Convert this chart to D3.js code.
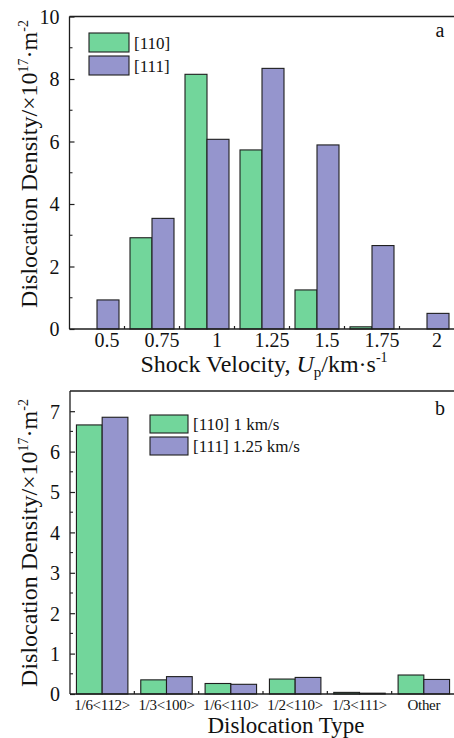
<!DOCTYPE html>
<html>
<head>
<meta charset="utf-8">
<script src="https://cdn.jsdelivr.net/npm/d3@7/dist/d3.min.js"></script>
<style>
  html, body { margin: 0; padding: 0; background: #fff; }
  svg { display: block; }
  svg text { font-family: "Liberation Serif", "Times New Roman", serif; }
</style>
</head>
<body>
<svg id="chart" width="454" height="738"></svg>
<script>
// Panel a: dislocation density vs. shock velocity
const velocities = ["0.5", "0.75", "1", "1.25", "1.5", "1.75", "2"];
const density110 = [0, 2.92, 8.15, 5.73, 1.25, 0.07, 0];
const density111 = [0.93, 3.54, 6.07, 8.34, 5.89, 2.67, 0.5];
const yTicksA = [0, 2, 4, 6, 8, 10];

// Panel b: dislocation density by dislocation type
const dislocationTypes = ["1/6<112>", "1/3<100>", "1/6<110>", "1/2<110>", "1/3<111>", "Other"];
const typeDensity110 = [6.66, 0.35, 0.26, 0.37, 0.04, 0.47];
const typeDensity111 = [6.85, 0.43, 0.24, 0.41, 0.02, 0.36];
const yTicksB = [0, 1, 2, 3, 4, 5, 6, 7];

const seriesNames = ["[110]", "[111]"];
const legendB = ["[110] 1 km/s", "[111] 1.25 km/s"];
const colors = ["#72d69b", "#9595cd"];
const stroke = "#1e1e1e";
const serif = "Liberation Serif, Times New Roman, serif";

const svg = d3.select("#chart");

function panel(cfg) {
  const g = svg.append("g");
  const { x0, x1, yTop, yBottom, yMax, cats, s1, s2 } = cfg;

  const x = d3.scaleBand().domain(cats).range([x0, x1]).paddingInner(0.2).paddingOuter(0.1);
  const xs = d3.scaleBand().domain([0, 1]).range([0, x.bandwidth()]);
  const y = d3.scaleLinear().domain([0, yMax]).range([yBottom, yTop]);

  // bars
  const data = [];
  cats.forEach((c, i) => {
    data.push({ c, s: 0, v: s1[i] });
    data.push({ c, s: 1, v: s2[i] });
  });
  g.selectAll("rect.bar").data(data.filter(d => d.v > 0)).join("rect")
    .attr("class", "bar")
    .attr("x", d => x(d.c) + xs(d.s))
    .attr("width", xs.bandwidth())
    .attr("y", d => y(d.v))
    .attr("height", d => y(0) - y(d.v))
    .attr("fill", d => colors[d.s])
    .attr("stroke", stroke)
    .attr("stroke-width", 1.1);

  // frame: left axis, top border, bottom axis
  g.append("line").attr("x1", x0).attr("x2", x0).attr("y1", yTop).attr("y2", yBottom)
    .attr("stroke", stroke).attr("stroke-width", 1.3);
  g.append("line").attr("x1", x0).attr("x2", 454).attr("y1", yTop).attr("y2", yTop)
    .attr("stroke", stroke).attr("stroke-width", 1.3);
  g.append("line").attr("x1", x0).attr("x2", 454).attr("y1", yBottom).attr("y2", yBottom)
    .attr("stroke", stroke).attr("stroke-width", 1.3);

  // y axis (inward ticks, minor ticks between majors)
  const yAxis = d3.axisLeft(y).tickValues(cfg.yTicks).tickSize(-5).tickPadding(10)
    .tickFormat(d3.format("d"));
  const ya = g.append("g").attr("transform", `translate(${x0},0)`).call(yAxis)
    .attr("font-family", serif);
  ya.select(".domain").remove();
  ya.selectAll(".tick line").attr("stroke", stroke).attr("stroke-width", 1.2);
  ya.selectAll(".tick text").attr("font-size", cfg.yFont).attr("fill", "#111")
    .attr("dy", "0.34em");
  g.selectAll("line.minor").data(cfg.minor).join("line").attr("class", "minor")
    .attr("x1", x0).attr("x2", x0 + 3).attr("y1", d => y(d)).attr("y2", d => y(d))
    .attr("stroke", stroke).attr("stroke-width", 1.1);

  // x ticks at group boundaries
  const bounds = cats.slice(1).map(c => x(c) - x.step() * x.paddingInner() / 2);
  g.selectAll("line.xt").data(bounds).join("line").attr("class", "xt")
    .attr("x1", d => d).attr("x2", d => d).attr("y1", yBottom).attr("y2", yBottom - 3)
    .attr("stroke", stroke).attr("stroke-width", 1.2);

  // x category labels
  g.selectAll("text.xl").data(cats).join("text").attr("class", "xl")
    .attr("x", d => x(d) + x.bandwidth() / 2 + cfg.labelShift)
    .attr("y", cfg.labelY)
    .attr("text-anchor", "middle")
    .attr("font-size", cfg.xFont)
    .attr("letter-spacing", cfg.xSpacing)
    .attr("fill", "#111")
    .text(d => d);

  // legend
  cfg.legend.forEach((t, i) => {
    const ly = cfg.legY + i * cfg.legStep;
    g.append("rect").attr("x", cfg.legX).attr("y", ly).attr("width", cfg.legW).attr("height", cfg.legH)
      .attr("fill", colors[i]).attr("stroke", stroke).attr("stroke-width", 1.1);
    g.append("text").attr("x", cfg.legX + cfg.legW + 5).attr("y", ly + cfg.legH / 2 + 6)
      .attr("font-size", 17).attr("fill", "#111").text(t);
  });

  // panel letter
  g.append("text").attr("x", 440).attr("y", cfg.letterY).attr("text-anchor", "middle")
    .attr("font-size", 20).attr("fill", "#111").text(cfg.letter);

  // y axis title
  const yt = g.append("text")
    .attr("transform", `translate(36.5,${cfg.yTitleY}) rotate(-90)`)
    .attr("text-anchor", "middle").attr("font-size", 24).attr("fill", "#111");
  yt.append("tspan").text("Dislocation Density/\u00d710");
  yt.append("tspan").attr("font-size", 14).attr("dy", -9).text("17");
  yt.append("tspan").attr("dy", 9).text("\u00b7m");
  yt.append("tspan").attr("font-size", 14).attr("dy", -9).text("-2");

  return { x, y };
}

panel({
  x0: 69.5, x1: 454.5, yTop: 16.5, yBottom: 329, yMax: 10,
  cats: velocities, s1: density110, s2: density111,
  yTicks: yTicksA, minor: [1, 3, 5, 7, 9], yFont: 20,
  labelShift: 10, labelY: 347, xFont: 20, xSpacing: 0,
  legend: seriesNames, legX: 89, legY: 33, legW: 40, legH: 19, legStep: 23,
  letter: "a", letterY: 37, yTitleY: 164
});

panel({
  x0: 70, x1: 456, yTop: 391, yBottom: 694, yMax: 7.5,
  cats: dislocationTypes, s1: typeDensity110, s2: typeDensity111,
  yTicks: yTicksB, minor: [0.5, 1.5, 2.5, 3.5, 4.5, 5.5, 6.5], yFont: 20,
  labelShift: 0, labelY: 710, xFont: 15, xSpacing: -0.3,
  legend: legendB, legX: 150, legY: 415, legW: 38, legH: 18, legStep: 22,
  letter: "b", letterY: 415, yTitleY: 543
});

// x axis titles
const xtA = svg.append("text").attr("x", 264).attr("y", 372).attr("text-anchor", "middle")
  .attr("font-size", 24).attr("fill", "#111");
xtA.append("tspan").text("Shock Velocity, ");
xtA.append("tspan").attr("font-style", "italic").text("U");
xtA.append("tspan").attr("font-size", 15).attr("dy", 5).text("p");
xtA.append("tspan").attr("dy", -5).text("/km\u00b7s");
xtA.append("tspan").attr("font-size", 14).attr("dy", -10).text("-1");

svg.append("text").attr("x", 286).attr("y", 733).attr("text-anchor", "middle")
  .attr("font-size", 23).attr("fill", "#111").text("Dislocation Type");
</script>
</body>
</html>
